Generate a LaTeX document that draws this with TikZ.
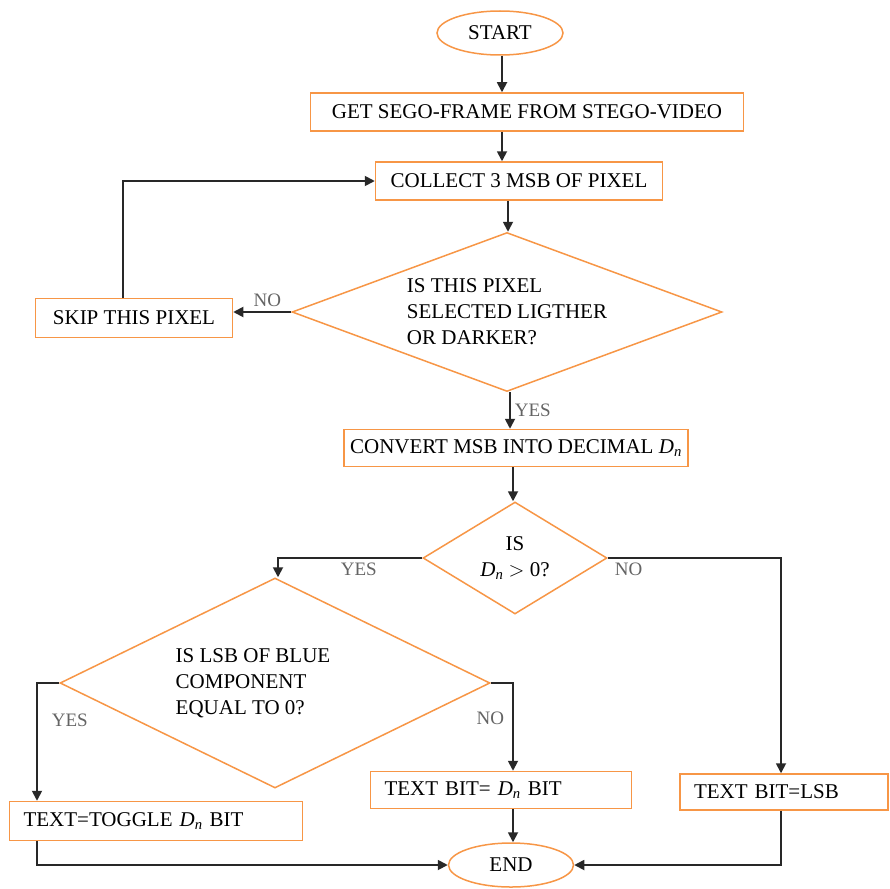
\documentclass[tikz,border=0pt]{standalone}
\usepackage{fontspec}
\setmainfont{Liberation Serif}
\usepackage{tikz}
\usetikzlibrary{shapes.geometric,arrows.meta,calc}
\definecolor{boxorange}{RGB}{247,150,70}
\definecolor{linegray}{RGB}{40,40,40}
\definecolor{labelgray}{RGB}{100,100,100}
\newcommand{\Dn}{\textit{D}\textsubscript{\textit{n}}}

\begin{document}
\begin{tikzpicture}[
  x=1pt, y=-1pt,
  part/.style={draw=boxorange, line width=1.5pt, fill=white, inner sep=0pt,
    font=\fontsize{21}{26}\selectfont, text=black},
  leftpart/.style={part, align=left, inner xsep=14pt},
  term/.style={part, ellipse},
  choice/.style={part, diamond, align=left},
  arr/.style={-{Triangle[length=10pt,width=10pt]}, line width=1.8pt, linegray},
  lbl/.style={font=\fontsize{19}{22}\selectfont, text=labelgray, inner sep=4pt},
]
  \useasboundingbox (0,0) rectangle (890,888);

  \node[term, minimum width=126pt, minimum height=44pt] (start) at (500,33) {START};
  \node[part, minimum width=433pt, minimum height=38pt] (getframe) at (527,112)
    {GET SEGO-FRAME FROM STEGO-VIDEO};
  \node[part, minimum width=287pt, minimum height=38pt] (collect) at (519,181)
    {COLLECT 3 MSB OF PIXEL};
  \node[choice, aspect=2.7, minimum width=430pt, minimum height=159pt] (selq) at (507,312)
    {IS THIS PIXEL\\SELECTED LIGTHER\\OR DARKER?};
  \node[part, minimum width=197pt, minimum height=39pt] (skip) at (134,318)
    {SKIP THIS PIXEL};
  \node[part, minimum width=344pt, minimum height=37pt] (convert) at (516,448)
    {CONVERT MSB INTO DECIMAL \Dn};
  \node[choice, align=center, aspect=1.64, minimum width=184pt, minimum height=112pt] (dnq) at (515,558)
    {IS\\\Dn\ $>$ 0?};
  \node[choice, aspect=2.05, minimum width=430pt, minimum height=210pt] (lsbq) at (275,683)
    {IS LSB OF BLUE\hspace*{44pt}\\COMPONENT\\EQUAL TO 0?};
  \node[leftpart, text width=265pt, minimum height=39pt] (toggle) at (156,821)
    {TEXT=TOGGLE \Dn\ BIT};
  \node[leftpart, text width=233pt, minimum height=37pt] (dnbit) at (501,790)
    {TEXT BIT= \Dn\ BIT};
  \node[leftpart, text width=180pt, minimum height=36pt] (lsbbit) at (784,792)
    {TEXT BIT=LSB};
  \node[term, minimum width=125pt, minimum height=44pt] (end) at (511,865) {END};

  \draw[arr] ([xshift=2pt]start.south) -- ([xshift=2pt]start.south |- getframe.north);
  \draw[arr] ([xshift=2pt]start.south |- getframe.south) -- ([xshift=2pt]start.south |- collect.north);
  \draw[arr] ([xshift=1pt]selq.north |- collect.south) -- ([xshift=1pt]selq.north);
  \draw[arr] ([xshift=3pt]selq.south) -- ([xshift=3pt]selq.south |- convert.north)
    node[lbl, midway, right] {YES};
  \draw[arr] (selq.west) -- (selq.west -| skip.east)
    node[lbl, midway, above, xshift=5pt] {NO};
  \draw[arr] ([xshift=-11pt]skip.north) |- (collect.west);
  \draw[arr] ([xshift=-2pt]dnq.north |- convert.south) -- ([xshift=-2pt]dnq.north);
  \draw[arr] (dnq.west) -| ([xshift=3pt]lsbq.north)
    node[lbl, pos=0.22, below] {YES};
  \draw[arr] (dnq.east) -| ([xshift=-3pt]lsbbit.north)
    node[lbl, pos=0.06, below] {NO};
  \draw[arr] (lsbq.west) -| ([xshift=-119pt]toggle.north)
    node[lbl, pos=0.66, right, xshift=10pt] {YES};
  \draw[arr] (lsbq.east) -| ([xshift=12pt]dnbit.north)
    node[lbl, pos=0.7, left, xshift=-4pt] {NO};
  \draw[arr] ([xshift=2pt]end.north |- dnbit.south) -- ([xshift=2pt]end.north);
  \draw[arr] ([xshift=-119pt]toggle.south) |- (end.west);
  \draw[arr] ([xshift=-3pt]lsbbit.south) |- (end.east);
\end{tikzpicture}
\end{document}
